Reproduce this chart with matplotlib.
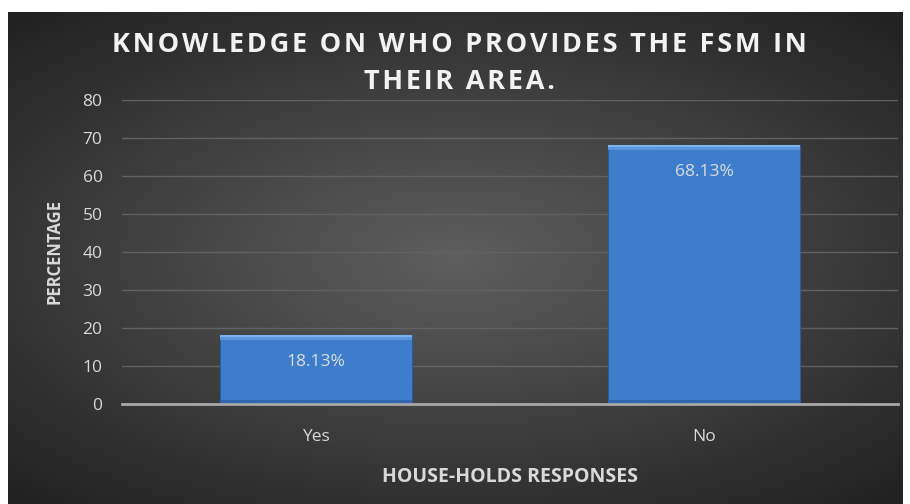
import numpy as np
import matplotlib
matplotlib.use('Agg')
import matplotlib.pyplot as plt

categories = ['Yes', 'No']
values = [18.13, 68.13]
labels = ['18.13%', '68.13%']
yticks = [0, 10, 20, 30, 40, 50, 60, 70, 80]
title_lines = ['KNOWLEDGE ON WHO PROVIDES THE FSM IN', 'THEIR AREA.']

plt.rcParams['font.family'] = ['Open Sans', 'DejaVu Sans']

fig = plt.figure(figsize=(9.1, 5.04), dpi=100)
fig.patch.set_facecolor('white')

# dark radial gradient background (chart area inside white margin)
bg = fig.add_axes([8/910, 0, 895/910, 1 - 12/504])
bg.axis('off')
yy, xx = np.mgrid[-1:1:300j, -1:1:500j]
r = np.sqrt((xx/1.1)**2 + (yy/1.0)**2)
shade = 0.37 - 0.18*np.clip(r, 0, 1.3)
bg.imshow(np.dstack([shade]*3), aspect='auto', extent=[0, 1, 0, 1], interpolation='bilinear')
bg.set_xlim(0, 1)
bg.set_ylim(0, 1)

# plot axes: x from 122 to 898 px, y0 at 404 px, y80 at 100 px
ax = fig.add_axes([122/910, (504-404)/504, 776/910, 304/504])
ax.patch.set_alpha(0)
x = np.arange(len(categories))
ax.bar(x, values, width=0.495, color='#3d7dcc', edgecolor='#2b5c9a', linewidth=0.8, zorder=3)
# bevel highlight along the top of each bar, shadow at the bottom
ax.bar(x, [1.4]*len(values), bottom=[v - 1.4 for v in values], width=0.495,
       color='#5b96dd', linewidth=0, zorder=4)
ax.bar(x, [0.6]*len(values), bottom=[v - 0.6 for v in values], width=0.495,
       color='#7cb2ee', linewidth=0, zorder=4)
ax.bar(x, [1.0]*len(values), bottom=[0]*len(values), width=0.495,
       color='#2f66ad', linewidth=0, zorder=4)

for xi, v, lab in zip(x, values, labels):
    ax.annotate(lab, (xi, v), xytext=(0, -19.5), textcoords='offset points',
                ha='center', va='center', color='#dcdcdc', fontsize=12.5, zorder=5)

ax.set_xlim(-0.5, 1.5)
ax.set_ylim(0, 80)
ax.set_yticks(yticks)
ax.set_xticks(x)
ax.set_xticklabels(categories)
ax.yaxis.grid(True, color='#626262', linewidth=1.0, zorder=0)
ax.set_axisbelow(True)
for s in ['top', 'right', 'left']:
    ax.spines[s].set_visible(False)
ax.spines['bottom'].set_color('#a8a8a8')
ax.spines['bottom'].set_linewidth(2)
ax.spines['bottom'].set_zorder(6)
ax.tick_params(axis='both', length=0, colors='#d9d9d9', labelsize=12.5)
ax.tick_params(axis='y', pad=14)
ax.tick_params(axis='x', pad=18)

ax.set_ylabel('PERCENTAGE', color='#d9d9d9', fontsize=12, fontweight='bold', labelpad=14)
ax.set_xlabel('HOUSE-HOLDS RESPONSES', color='#d9d9d9', fontsize=14, fontweight='bold', labelpad=16)

# letter-spaced title
hair = '\u200a'
for line, ypx in zip(title_lines, [45, 82]):
    spaced = hair.join(line)
    fig.text(0.505, 1 - ypx/504, spaced, ha='center', va='center', color='#f2f2f2',
             fontsize=19.5, fontweight='bold')

fig.savefig('out.png', dpi=100, facecolor=fig.get_facecolor())
